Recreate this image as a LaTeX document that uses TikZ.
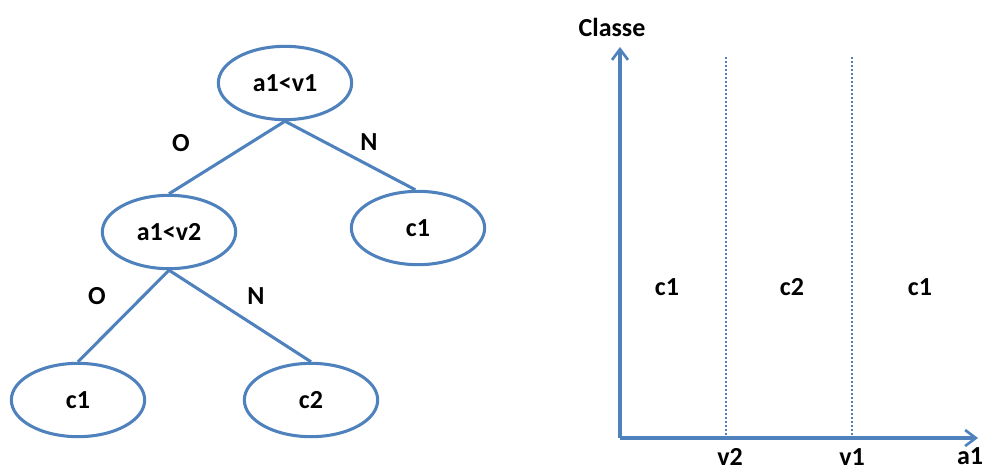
\documentclass[tikz,border=0pt]{standalone}
\usepackage{fontspec}
\setmainfont{Carlito}
\usetikzlibrary{shapes.geometric,arrows.meta}
\definecolor{edgeblue}{RGB}{79,129,189}
\begin{document}
\begin{tikzpicture}[x=0.75pt,y=-0.75pt,
  every node/.style={font=\fontsize{19.5}{23}\selectfont\bfseries, text=black},
  leaf/.style={ellipse, draw=edgeblue, line width=2.3pt, minimum width=100pt, minimum height=55pt, inner sep=0pt},
  branch/.style={draw=edgeblue, line width=2.3pt},
  axis/.style={draw=edgeblue, line width=2.4pt, -{Straight Barb[length=8pt,width=12pt,line width=2pt]}},
  split/.style={draw=edgeblue, line width=2pt, dash pattern=on 1.6pt off 1.4pt}
]
\useasboundingbox (0,0) rectangle (987,471);

% decision tree
\node[leaf] (r)  at (285,83)  {a1<v1};
\node[leaf] (l)  at (169,232) {a1<v2};
\node[leaf] (rc) at (418,228) {c1};
\node[leaf] (ll) at (78,400)  {c1};
\node[leaf] (lr) at (311,400) {c2};

\draw[branch] (r.south) -- (l.north);
\draw[branch] (r.south) -- ([xshift=-2pt]rc.north);
\draw[branch] (l.south) -- (ll.north);
\draw[branch] (l.south) -- (lr.north);

\node (o1) at (181,143) {O};
\node (n1) at (369,142) {N};
\node (o2) at (97,296)  {O};
\node (n2) at (256,296) {N};

% partition of the a1 axis
\coordinate (origin) at (620,438);
\coordinate (ytip) at (620,47);
\coordinate (xtip) at (978,438);
\coordinate (s2top) at (726,57);
\coordinate (s2bot) at (726,438);
\coordinate (s1top) at (852,57);
\coordinate (s1bot) at (852,438);

\draw[split] (s2top) -- (s2bot);
\draw[split] (s1top) -- (s1bot);
\draw[axis] (origin) -- (ytip);
\draw[axis] (origin) -- (xtip);

\node (classe) at (612,27) {Classe};
\node (v2) at (730,457) {v2};
\node (v1) at (852,457) {v1};
\node (a1) at (970,456) {a1};

\node (z1) at (667,287) {c1};
\node (z2) at (792,287) {c2};
\node (z3) at (920,287) {c1};
\end{tikzpicture}
\end{document}
